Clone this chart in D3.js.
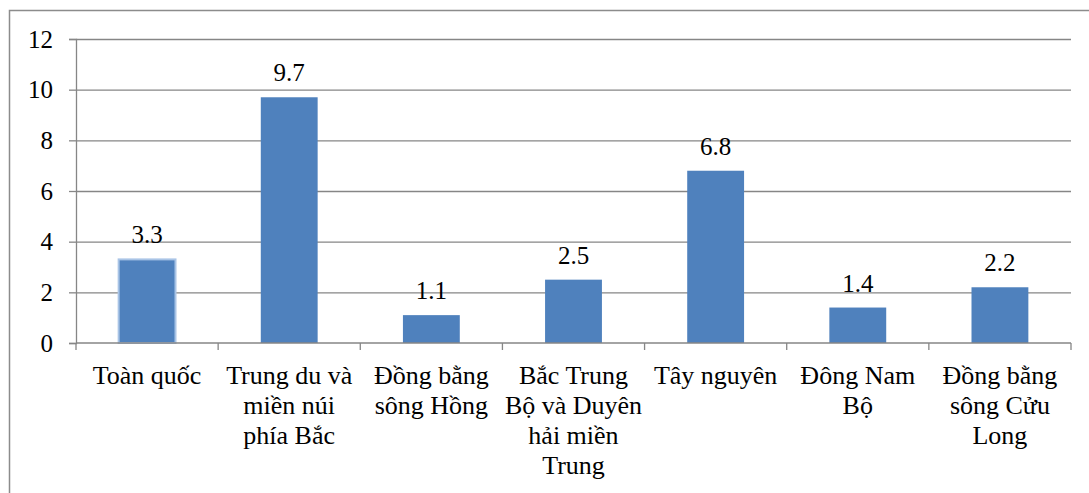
<!DOCTYPE html>
<html>
<head>
<meta charset="utf-8">
<script src="https://cdn.jsdelivr.net/npm/d3@7"></script>
<style>
  html, body { margin: 0; padding: 0; background: #fff; }
  svg text { font-family: "Times New Roman", "Liberation Serif", Tinos, "DejaVu Serif", serif !important; }
</style>
</head>
<body>
<svg id="chart" width="1089" height="493"></svg>
<script>
const categories = ["Toàn quốc", "Trung du và miền núi phía Bắc", "Đồng bằng sông Hồng",
  "Bắc Trung Bộ và Duyên hải miền Trung", "Tây nguyên", "Đông Nam Bộ", "Đồng bằng sông Cửu Long"];
const labelLines = [
  ["Toàn quốc"],
  ["Trung du và", "miền núi", "phía Bắc"],
  ["Đồng bằng", "sông Hồng"],
  ["Bắc Trung", "Bộ và Duyên", "hải miền", "Trung"],
  ["Tây nguyên"],
  ["Đông Nam", "Bộ"],
  ["Đồng bằng", "sông Cửu", "Long"]
];
const values = [3.3, 9.7, 1.1, 2.5, 6.8, 1.4, 2.2];
const yTicks = [0, 2, 4, 6, 8, 10, 12];

const svg = d3.select("#chart");
const plotLeft = 76, plotRight = 1071, plotTop = 39, plotBottom = 343;

// outer frame
svg.append("rect")
  .attr("x", 9.5).attr("y", 10.5)
  .attr("width", 1200).attr("height", 600)
  .attr("fill", "none").attr("stroke", "#8c8c8c").attr("stroke-width", 1.5);

const x = d3.scaleBand().domain(categories).range([plotLeft, plotRight]).paddingInner(0.6).paddingOuter(0.3);
const y = d3.scaleLinear().domain([0, 12]).range([plotBottom, plotTop]);

// gridlines + y axis
const yAxis = d3.axisLeft(y).tickValues(yTicks).tickSize(7).tickPadding(16).tickFormat(d3.format("d"));
const gy = svg.append("g").attr("transform", `translate(${plotLeft},0)`).call(yAxis);
gy.attr("font-family", null);
gy.select(".domain").attr("stroke", "#868686").attr("stroke-width", 1.3);
gy.selectAll(".tick line").attr("stroke", "#868686").attr("stroke-width", 1.3);
gy.selectAll(".tick text").attr("font-size", 25).attr("fill", "#000");
gy.selectAll(".tick").filter(d => d !== 0).append("line")
  .attr("x1", 0).attr("x2", plotRight - plotLeft)
  .attr("stroke", "#868686").attr("stroke-width", 1.3);

// bars
const step = x.step();
svg.append("g").selectAll("rect").data(values).join("rect")
  .attr("x", (d, i) => x(categories[i]))
  .attr("width", x.bandwidth())
  .attr("y", d => y(d))
  .attr("height", d => y(0) - y(d))
  .attr("fill", "#4f81bd")
  .attr("stroke", (d, i) => i === 0 ? "#a9c4e6" : "none")
  .attr("stroke-width", 2);

// x axis line with ticks at band boundaries
const gx = svg.append("g");
gx.append("line").attr("x1", plotLeft).attr("x2", plotRight).attr("y1", y(0)).attr("y2", y(0))
  .attr("stroke", "#868686").attr("stroke-width", 1.3);
const boundaries = categories.map(c => x(c) - step * x.paddingInner() / 2).concat([plotRight]);
gx.selectAll("line.tk").data(boundaries).join("line").attr("class", "tk")
  .attr("x1", d => d).attr("x2", d => d)
  .attr("y1", y(0)).attr("y2", y(0) + 7)
  .attr("stroke", "#868686").attr("stroke-width", 1.3);

// category labels
categories.forEach((c, i) => {
  const cx = x(c) + x.bandwidth() / 2;
  const t = svg.append("text").attr("text-anchor", "middle")
    .attr("font-size", 26).attr("fill", "#000");
  labelLines[i].forEach((ln, j) => {
    t.append("tspan").attr("x", cx).attr("y", 384 + j * 30).text(ln);
  });
});

// value labels
svg.append("g").selectAll("text").data(values).join("text")
  .attr("x", (d, i) => x(categories[i]) + x.bandwidth() / 2)
  .attr("y", d => y(d) - 16)
  .attr("text-anchor", "middle")
  .attr("font-size", 25).attr("fill", "#000")
  .text(d => d.toFixed(1));
</script>
</body>
</html>
